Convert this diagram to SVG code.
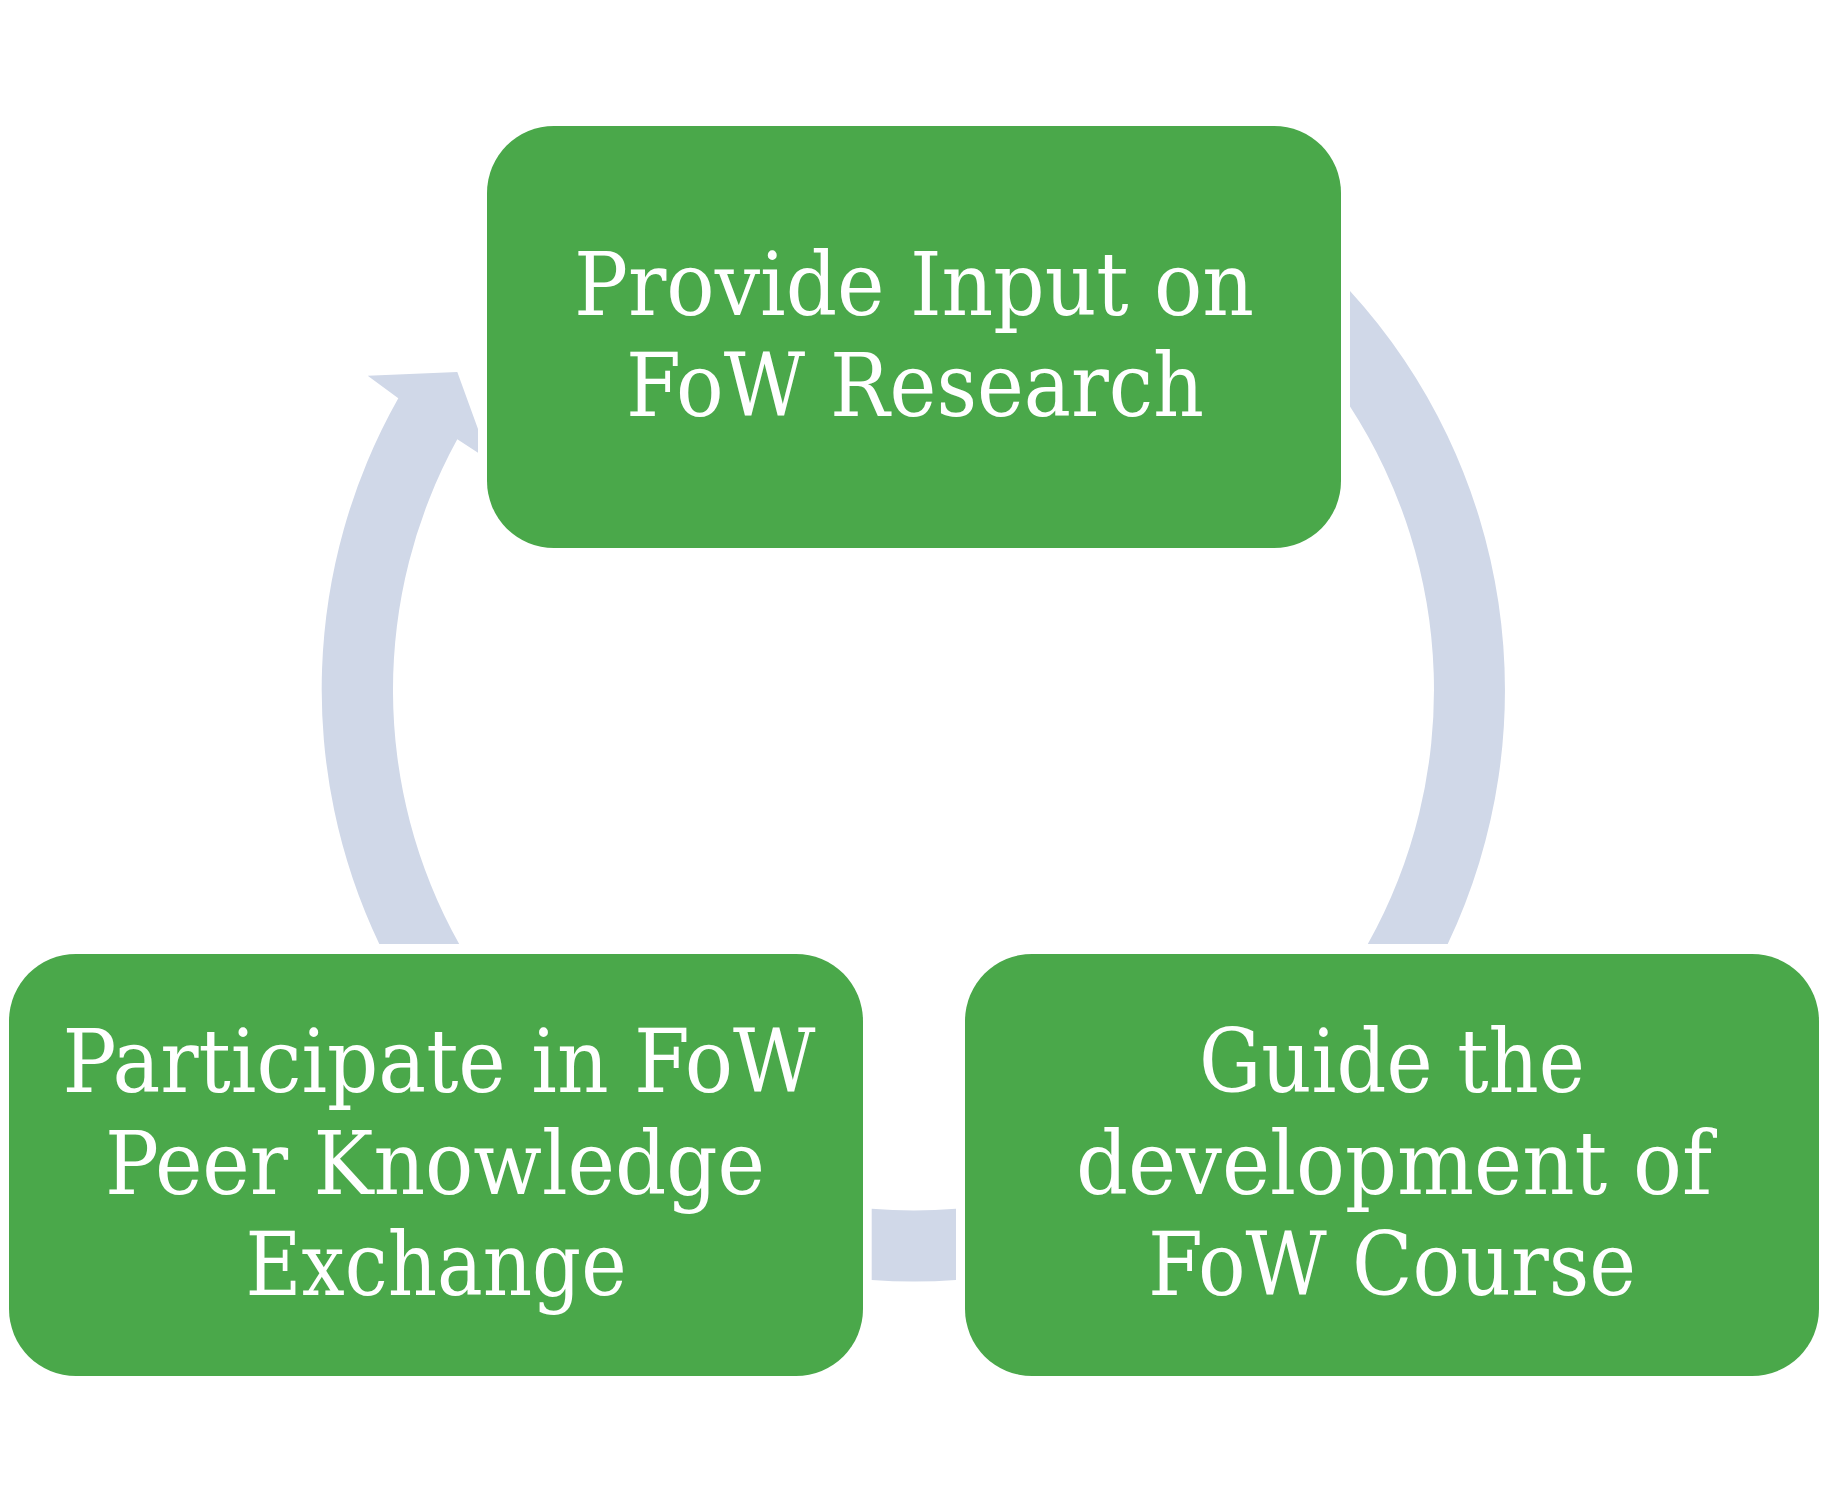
<svg xmlns="http://www.w3.org/2000/svg" width="1828" height="1501" viewBox="0 0 1828 1501">
<style>
.node{fill:#4aa84a}
.arc{fill:#d0d8e8}
.lbl{font-family:"DejaVu Serif Condensed","DejaVu Serif","Liberation Serif",serif;font-size:87px;fill:#ffffff;text-anchor:middle}
</style>
<rect width="1828" height="1501" fill="#ffffff"/>
<g id="connectors">
<path class="arc" d="M 1350 291 A 591.5 591.5 0 0 1 1447.7 944 L 1367.8 944 A 520.5 520.5 0 0 0 1350 406.5 Z"/>
<path class="arc" d="M 871.7 1208.8 A 520.5 520.5 0 0 0 956 1208.8 L 956 1280 A 591.5 591.5 0 0 1 871.7 1280 Z"/>
<path class="arc" d="M 379.3 944 A 591.5 591.5 0 0 1 398.3 398.3 L 367.7 375.7 L 457.3 372 L 478 429 L 478 452.7 L 457.3 439.3 A 520.5 520.5 0 0 0 459.2 944 Z"/>
</g>
<g id="node-research">
<rect class="node" x="487" y="126" width="854" height="422" rx="67" ry="67"/>
<text class="lbl" x="914" y="315" textLength="680" lengthAdjust="spacingAndGlyphs">Provide Input on</text>
<text class="lbl" x="915" y="416" textLength="578" lengthAdjust="spacingAndGlyphs">FoW Research</text>
</g>
<g id="node-course">
<rect class="node" x="965" y="954" width="854" height="422" rx="67" ry="67"/>
<text class="lbl" x="1392" y="1092" textLength="386" lengthAdjust="spacingAndGlyphs">Guide the</text>
<text class="lbl" x="1394" y="1193.5" textLength="636" lengthAdjust="spacingAndGlyphs">development of</text>
<text class="lbl" x="1392" y="1295" textLength="488" lengthAdjust="spacingAndGlyphs">FoW Course</text>
</g>
<g id="node-exchange">
<rect class="node" x="9" y="954" width="854" height="422" rx="67" ry="67"/>
<text class="lbl" x="439" y="1092" textLength="753" lengthAdjust="spacingAndGlyphs">Participate in FoW</text>
<text class="lbl" x="435" y="1193.5" textLength="660" lengthAdjust="spacingAndGlyphs">Peer Knowledge</text>
<text class="lbl" x="436" y="1295" textLength="381" lengthAdjust="spacingAndGlyphs">Exchange</text>
</g>
</svg>
